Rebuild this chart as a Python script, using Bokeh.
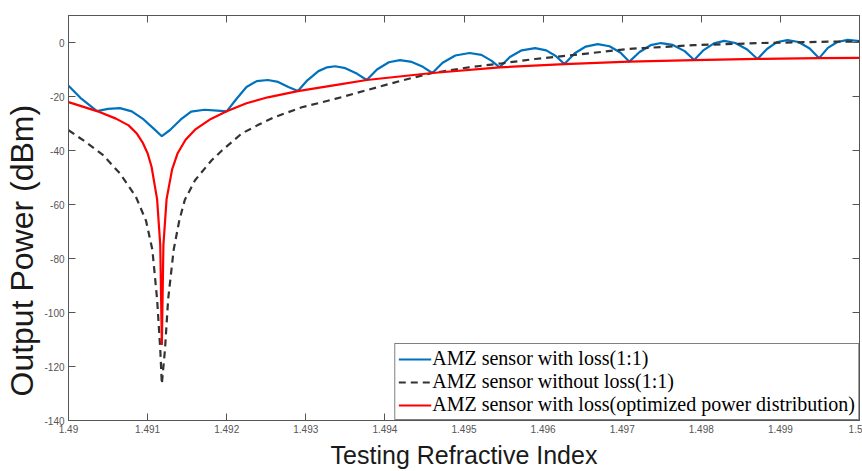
from bokeh.plotting import figure
from bokeh.models import FixedTicker, LinearAxis, Range1d, Legend, LegendItem, Title
from bokeh.embed import file_html
from bokeh.resources import INLINE

# ---------------- data ----------------
x_ticks = [1.49, 1.491, 1.492, 1.493, 1.494, 1.495, 1.496, 1.497, 1.498, 1.499, 1.5]
x_tick_labels = ["1.49", "1.491", "1.492", "1.493", "1.494", "1.495", "1.496", "1.497", "1.498", "1.499", "1.5"]
y_ticks = [-140, -120, -100, -80, -60, -40, -20, 0]
y_tick_labels = ["-140", "-120", "-100", "-80", "-60", "-40", "-20", "0"]

blue_x = [1.49000, 1.49015, 1.49036, 1.49050, 1.49065, 1.49080, 1.49095, 1.49108, 1.49118,
          1.49128, 1.49142, 1.49155, 1.49172, 1.49188, 1.49200, 1.49212, 1.49225, 1.49238,
          1.49252, 1.49265, 1.49278, 1.49290, 1.49302, 1.49316, 1.49327, 1.49337, 1.49350,
          1.49365, 1.49377, 1.49390, 1.49405, 1.49419, 1.49434, 1.49448, 1.49460, 1.49473,
          1.49489, 1.49507, 1.49522, 1.49535, 1.49545, 1.49558, 1.49573, 1.49590, 1.49604,
          1.49616, 1.49627, 1.49640, 1.49654, 1.49669, 1.49684, 1.49698, 1.49709, 1.49722,
          1.49736, 1.49749, 1.49764, 1.49779, 1.49791, 1.49803, 1.49816, 1.49829, 1.49843,
          1.49858, 1.49871, 1.49883, 1.49896, 1.49909, 1.49923, 1.49937, 1.49949, 1.49960,
          1.49972, 1.49985, 1.50000]
blue_y = [-16.0, -20.5, -25.4, -24.6, -24.3, -25.5, -28.5, -32.0, -34.7,
          -32.5, -28.5, -25.6, -24.9, -25.2, -25.5, -21.0, -16.5, -14.3,
          -13.9, -14.6, -16.5, -18.0, -14.0, -10.6, -9.2, -8.8, -9.5,
          -11.6, -13.9, -10.0, -7.3, -6.5, -7.2, -9.0, -11.3, -7.5,
          -4.8, -3.9, -4.6, -6.8, -9.2, -5.4, -2.9, -2.1, -2.9,
          -5.0, -8.0, -4.0, -1.5, -0.6, -1.4, -3.8, -7.1, -3.5,
          -1.0, -0.2, -0.9, -3.2, -6.5, -2.8, -0.3, 0.6, -0.2,
          -2.6, -6.1, -2.4, 0.2, 0.9, 0.2, -2.2, -5.8, -2.0,
          0.2, 1.0, 0.5]

dash_x = [1.49000, 1.49020, 1.49043, 1.49065, 1.49085, 1.49098, 1.49106, 1.49112, 1.49116,
          1.49118, 1.49122, 1.49126, 1.49133, 1.49140, 1.49147, 1.49160, 1.49181, 1.49194,
          1.49219, 1.49240, 1.49260, 1.49278, 1.49295, 1.49337, 1.49379, 1.49421, 1.49460,
          1.49506, 1.49548, 1.49590, 1.49649, 1.49707, 1.49790, 1.49875, 1.49960, 1.50000]
dash_y = [-32.5, -36.5, -41.5, -48.5, -57.0, -66.0, -76.7, -95.0, -113.6,
          -126.5, -113.6, -95.0, -76.7, -66.0, -58.3, -51.0, -43.6, -40.0,
          -33.7, -30.5, -27.7, -25.8, -24.0, -20.9, -17.5, -14.1, -11.3,
          -9.2, -7.7, -6.1, -4.3, -2.4, -1.0, -0.2, 0.3, 0.3]

red_x = [1.49000, 1.49036, 1.49060, 1.49076, 1.49086, 1.49094, 1.49100, 1.49105, 1.49112,
         1.49116, 1.49118, 1.49120, 1.49124, 1.49131, 1.49138, 1.49148, 1.49160, 1.49180,
         1.49200, 1.49225, 1.49252, 1.49290, 1.49337, 1.49377, 1.49460, 1.49545, 1.49627,
         1.49709, 1.49791, 1.49871, 1.49949, 1.50000]
red_y = [-22.1, -25.4, -28.2, -30.7, -33.6, -37.2, -41.0, -46.0, -58.0,
         -75.0, -112.0, -75.0, -58.0, -47.0, -41.0, -36.0, -32.3, -28.3,
         -25.5, -22.5, -20.3, -18.0, -15.8, -13.9, -11.3, -9.2, -8.0,
         -7.1, -6.5, -6.1, -5.8, -5.7]

series_labels = ["AMZ sensor with loss(1:1)",
                 "AMZ sensor without loss(1:1)",
                 "AMZ sensor with loss(optimized power distribution)"]

# ---------------- figure ----------------
p = figure(width=862, height=471, output_backend="svg", toolbar_location=None,
           x_range=Range1d(1.49, 1.5), y_range=Range1d(-140, 10),
           min_border_left=67, min_border_right=3, min_border_top=15, min_border_bottom=50)
p.background_fill_color = "white"
p.border_fill_color = "white"
p.outline_line_color = "#555555"
p.xgrid.visible = False
p.ygrid.visible = False

axis_col = "#555555"

def style_axis(ax):
    ax.axis_line_color = axis_col
    ax.major_tick_line_color = axis_col
    ax.minor_tick_line_color = axis_col
    ax.major_tick_in = 7
    ax.major_tick_out = 0
    ax.minor_tick_in = 7
    ax.minor_tick_out = 0
    ax.major_label_text_font = "Liberation Sans"
    ax.major_label_text_color = "#555555"
    ax.major_label_text_font_size = "10px"

xax = p.xaxis[0]
xax.ticker = FixedTicker(ticks=x_ticks)
xax.major_label_overrides = dict(zip(x_ticks, x_tick_labels))
style_axis(xax)
xax.major_label_standoff = 4
xax.axis_label = "Testing Refractive Index"
xax.axis_label_text_font = "Liberation Sans"
xax.axis_label_text_font_style = "normal"
xax.axis_label_text_font_size = "25px"
xax.axis_label_text_color = "#1a1a1a"
xax.axis_label_standoff = 5

yax = p.yaxis[0]
yax.ticker = FixedTicker(ticks=y_ticks)
yax.major_label_overrides = dict(zip(y_ticks, y_tick_labels))
style_axis(yax)
yax.major_label_standoff = 4

# y-axis title, sitting lower than the frame centre as in the reference
ytitle = Title(text="Output Power (dBm)", align="left", offset=24, standoff=3,
               text_font="Liberation Sans", text_font_size="32px",
               text_font_style="normal", text_color="#1a1a1a")
p.add_layout(ytitle, "left")

# mirrored inward ticks on the top and right sides (minor ticks only, no labels)
top_ax = LinearAxis(ticker=FixedTicker(ticks=[], minor_ticks=x_ticks))
style_axis(top_ax)
p.add_layout(top_ax, "above")
right_ax = LinearAxis(ticker=FixedTicker(ticks=[], minor_ticks=y_ticks))
style_axis(right_ax)
p.add_layout(right_ax, "right")

r_blue = p.line(blue_x, blue_y, line_color="#0072BD", line_width=2.2)
r_dash = p.line(dash_x, dash_y, line_color="#333333", line_width=2.2, line_dash="7 5")
r_red = p.line(red_x, red_y, line_color="#FF0000", line_width=2.2)

legend = Legend(items=[LegendItem(label=series_labels[0], renderers=[r_blue]),
                       LegendItem(label=series_labels[1], renderers=[r_dash]),
                       LegendItem(label=series_labels[2], renderers=[r_red])],
                location="bottom_right", margin=0, padding=3, spacing=0,
                glyph_width=33, glyph_height=18, label_height=18, label_standoff=1,
                label_text_font="Liberation Serif", label_text_font_size="20px",
                label_text_color="black",
                border_line_color="black", border_line_width=1,
                background_fill_color="white", background_fill_alpha=1.0)
p.add_layout(legend, "center")

open("out.html", "w").write(file_html(p, INLINE))
